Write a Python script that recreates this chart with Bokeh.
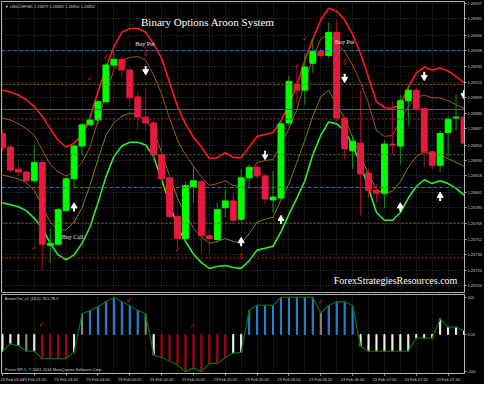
import numpy as np
from bokeh.plotting import figure
from bokeh.layouts import column
from bokeh.models import FixedTicker, Span, Label, NumeralTickFormatter, ColumnDataSource, Range1d
from bokeh.transform import factor_cmap
from bokeh.core.properties import value
from bokeh.embed import file_html
from bokeh.resources import INLINE

# ---------------- data ----------------
HEADER = "\u25bc USDCHF,M5  1.26879 1.26882 1.26850 1.26852"
TITLE = "Binary Options Aroon System"
WATERMARK = "ForexStrategiesResources.com"
OSC_HEADER = "AroonOsc_v1 (14,0) 78.5 78.5"
COPYRIGHT = "Prices RP-1, \u00a9 2001-2014 MetaQuotes Software Corp."

IDX = list(range(1, 60))
OPEN = [1.26862, 1.26848, 1.26825, 1.26822, 1.26813, 1.26832, 1.26746, 1.26747, 1.26782, 1.26815,
        1.26849, 1.26871, 1.26876, 1.26895, 1.26933, 1.26939, 1.26928, 1.26900, 1.26879, 1.26873,
        1.26840, 1.26816, 1.26776, 1.26753, 1.26807, 1.26812, 1.26756, 1.26752, 1.26785, 1.26792,
        1.26773, 1.26816, 1.26827, 1.26818, 1.26793, 1.26795, 1.26873, 1.26913, 1.26907, 1.26935,
        1.26947, 1.26943, 1.26967, 1.26878, 1.26844, 1.26852, 1.26821, 1.26803, 1.26800, 1.26851,
        1.26849, 1.26896, 1.26907, 1.26888, 1.26843, 1.26829, 1.26863, 1.26878, 1.26879]
HIGH = [1.26867, 1.26850, 1.26830, 1.26824, 1.26850, 1.26834, 1.26763, 1.26785, 1.26817, 1.26852,
        1.26873, 1.26882, 1.26897, 1.26935, 1.26948, 1.26942, 1.26930, 1.26905, 1.26910, 1.26875,
        1.26855, 1.26818, 1.26780, 1.26812, 1.26828, 1.26814, 1.26762, 1.26790, 1.26804, 1.26800,
        1.26825, 1.26830, 1.26830, 1.26820, 1.26823, 1.26875, 1.26922, 1.26933, 1.26945, 1.26960,
        1.26950, 1.26977, 1.26980, 1.26880, 1.26860, 1.26907, 1.26825, 1.26810, 1.26855, 1.26896,
        1.26902, 1.26910, 1.26910, 1.26890, 1.26845, 1.26865, 1.26880, 1.26903, 1.26882]
LOW = [1.26844, 1.26822, 1.26818, 1.26810, 1.26811, 1.26720, 1.26728, 1.26745, 1.26781, 1.26805,
       1.26840, 1.26870, 1.26872, 1.26892, 1.26930, 1.26920, 1.26890, 1.26865, 1.26865, 1.26832,
       1.26812, 1.26774, 1.26743, 1.26750, 1.26790, 1.26737, 1.26738, 1.26748, 1.26775, 1.26768,
       1.26770, 1.26805, 1.26815, 1.26788, 1.26780, 1.26793, 1.26870, 1.26893, 1.26892, 1.26925,
       1.26940, 1.26940, 1.26875, 1.26835, 1.26825, 1.26777, 1.26795, 1.26790, 1.26785, 1.26840,
       1.26830, 1.26870, 1.26885, 1.26827, 1.26825, 1.26822, 1.26838, 1.26865, 1.26850]
CLOSE = [1.26847, 1.26824, 1.26822, 1.26813, 1.26832, 1.26747, 1.26748, 1.26783, 1.26815, 1.26849,
         1.26871, 1.26876, 1.26895, 1.26933, 1.26939, 1.26928, 1.26899, 1.26879, 1.26873, 1.26840,
         1.26815, 1.26776, 1.26753, 1.26808, 1.26813, 1.26756, 1.26753, 1.26783, 1.26792, 1.26772,
         1.26816, 1.26827, 1.26818, 1.26794, 1.26796, 1.26872, 1.26916, 1.26907, 1.26931, 1.26947,
         1.26943, 1.26967, 1.26878, 1.26846, 1.26854, 1.26820, 1.26803, 1.26800, 1.26851, 1.26850,
         1.26896, 1.26907, 1.26888, 1.26843, 1.26829, 1.26862, 1.26877, 1.26879, 1.26852]

BAND_UPPER = [1.26907, 1.26905, 1.26902, 1.26897, 1.26890, 1.26880, 1.26867, 1.26855, 1.26848, 1.26852,
              1.26860, 1.26878, 1.26905, 1.26930, 1.26952, 1.26967, 1.26971, 1.26971, 1.26967, 1.26955,
              1.26940, 1.26915, 1.26890, 1.26872, 1.26858, 1.26848, 1.26836, 1.26837, 1.26842, 1.26837,
              1.26837, 1.26848, 1.26859, 1.26861, 1.26863, 1.26875, 1.26892, 1.26912, 1.26938, 1.26960,
              1.26980, 1.26992, 1.26989, 1.26980, 1.26965, 1.26945, 1.26920, 1.26895, 1.26889, 1.26888,
              1.26892, 1.26910, 1.26925, 1.26931, 1.26928, 1.26930, 1.26927, 1.26921, 1.26915]
BAND_UPPER_IN = [1.26878, 1.26876, 1.26872, 1.26867, 1.26860, 1.26845, 1.26830, 1.26822, 1.26818, 1.26822,
                 1.26832, 1.26848, 1.26875, 1.26903, 1.26928, 1.26938, 1.26941, 1.26942, 1.26938, 1.26923,
                 1.26903, 1.26878, 1.26855, 1.26840, 1.26828, 1.26817, 1.26808, 1.26810, 1.26813, 1.26808,
                 1.26807, 1.26820, 1.26832, 1.26834, 1.26835, 1.26850, 1.26867, 1.26887, 1.26915, 1.26940,
                 1.26960, 1.26965, 1.26956, 1.26947, 1.26933, 1.26915, 1.26893, 1.26865, 1.26859, 1.26860,
                 1.26875, 1.26890, 1.26899, 1.26902, 1.26899, 1.26899, 1.26896, 1.26892, 1.26888]
BAND_LOWER_IN = [1.26819, 1.26817, 1.26815, 1.26811, 1.26803, 1.26787, 1.26770, 1.26762, 1.26762, 1.26770,
                 1.26785, 1.26808, 1.26835, 1.26860, 1.26873, 1.26880, 1.26883, 1.26882, 1.26875, 1.26865,
                 1.26842, 1.26818, 1.26795, 1.26778, 1.26764, 1.26755, 1.26748, 1.26750, 1.26753, 1.26750,
                 1.26748, 1.26758, 1.26770, 1.26773, 1.26775, 1.26793, 1.26810, 1.26832, 1.26855, 1.26880,
                 1.26900, 1.26907, 1.26892, 1.26878, 1.26858, 1.26838, 1.26820, 1.26804, 1.26800, 1.26802,
                 1.26812, 1.26827, 1.26838, 1.26843, 1.26840, 1.26840, 1.26836, 1.26832, 1.26828]
BAND_LOWER = [1.26790, 1.26788, 1.26786, 1.26782, 1.26774, 1.26764, 1.26748, 1.26736, 1.26731, 1.26736,
              1.26748, 1.26765, 1.26790, 1.26817, 1.26838, 1.26849, 1.26853, 1.26853, 1.26850, 1.26838,
              1.26814, 1.26790, 1.26765, 1.26750, 1.26737, 1.26728, 1.26722, 1.26724, 1.26725, 1.26723,
              1.26722, 1.26730, 1.26741, 1.26743, 1.26745, 1.26760, 1.26778, 1.26795, 1.26813, 1.26840,
              1.26860, 1.26874, 1.26872, 1.26865, 1.26850, 1.26830, 1.26805, 1.26780, 1.26772, 1.26772,
              1.26780, 1.26795, 1.26807, 1.26814, 1.26810, 1.26813, 1.26810, 1.26805, 1.26798]

PRICE_TICKS = [1.26997, 1.26981, 1.26964, 1.26948, 1.26932, 1.26915, 1.26899, 1.26883, 1.26867, 1.26850,
               1.26834, 1.26818, 1.26801, 1.26785, 1.26769, 1.26752, 1.26736, 1.26720, 1.26704]
LEVELS = [1.26948, 1.26913, 1.26887, 1.26877, 1.26840, 1.26806, 1.26769, 1.26733]

SELL_IDX = [19, 34, 44, 54, 59]
SELL_PRICE = [1.26928, 1.26840, 1.26920, 1.26922, 1.26903]
BUY_IDX = [10, 31, 36, 51, 56]
BUY_PRICE = [1.26785, 1.26749, 1.26772, 1.26785, 1.26796]
PUT_SIG_IDX = [19, 44]
PUT_SIG_PRICE = [1.26945, 1.26936]
CALL_SIG_IDX = [10, 31]
CALL_SIG_PRICE = [1.26772, 1.26734]
CHECK_IDX = [5, 12, 14, 23, 38, 39]
CHECK_PRICE = [1.26743, 1.26919, 1.26941, 1.26741, 1.26932, 1.26960]
TAG_TEXT = ["Buy Put", "Buy Put", "Buy Call"]
TAG_IDX = [18.9, 44.0, 9.8]
TAG_PRICE = [1.26955, 1.26957, 1.26755]

OSC = [-45, -25, -30, -45, -45, -65, -65, -65, -65, -48,
       55, 65, 75, 88, 100, 88, 78, 65, 55, -55,
       -62, -72, -82, -100, -90, -100, -78, -78, -62, -50,
       -48, 65, 78, 78, 78, 100, 100, 100, 100, 100,
       58, 78, 88, 88, 78, -32, -45, -45, -45, -45,
       -45, -45, -10, -10, -10, 42, 20, 20, 10]
OSC_STATE = (["flat"] * 3 + ["turn", "flat"] + ["bear"] * 4 + ["flat", "turn"] + ["bull"] * 7 +
             ["turn", "flat"] + ["bear"] * 9 + ["flat", "flat"] + ["bull"] * 9 + ["turn"] +
             ["bull"] * 4 + ["flat"] * 14)
OSC_CHECK_IDX = [5.9, 16.9, 24.9, 41.0]
OSC_CHECK_VAL = [25, 90, 22, 88]

DATE_TICKS = [1, 5, 9, 13, 17, 21, 25, 29, 33, 37, 41, 45, 49, 53, 57]
DATE_LABELS = ["23 Feb 03:00", "23 Feb 03:20", "23 Feb 03:40", "23 Feb 04:00", "23 Feb 04:20",
               "23 Feb 04:40", "23 Feb 05:00", "23 Feb 05:20", "23 Feb 05:40", "23 Feb 06:00",
               "23 Feb 06:20", "23 Feb 06:40", "23 Feb 07:00", "23 Feb 07:20", "23 Feb 07:40"]
GRID_TICKS = list(range(1, 60, 2))

# ---------------- styles ----------------
BG = "#000000"
GRID = "#3c3c3c"
FRAME = "#b4b4b4"
AXTXT = "#c8c8c8"
SMALL = "4px"
AXFONT = "Liberation Sans"
RB = 18
XR = Range1d(0.88, 59.06)

idx = np.array(IDX, dtype=float)
o = np.array(OPEN)
c = np.array(CLOSE)
direction = ["up" if cc >= oo else "down" for oo, cc in zip(OPEN, CLOSE)]
src = ColumnDataSource(dict(x=idx, top=np.maximum(o, c), bottom=np.minimum(o, c),
                            high=HIGH, low=LOW, dir=direction))

p1 = figure(width=484, height=293, x_range=XR, y_range=Range1d(1.26697, 1.26999),
            output_backend="svg", toolbar_location=None, x_axis_location=None,
            y_axis_location="right", background_fill_color=BG, border_fill_color=BG,
            min_border_left=1, min_border_right=RB, min_border_top=1, min_border_bottom=1,
            outline_line_color=FRAME)
p1.yaxis.ticker = FixedTicker(ticks=PRICE_TICKS)
p1.yaxis.formatter = NumeralTickFormatter(format="0.00000")
p1.yaxis.major_label_text_font_size = SMALL
p1.yaxis.major_label_text_color = AXTXT
p1.yaxis.major_label_text_font = AXFONT
p1.yaxis.axis_line_color = FRAME
p1.yaxis.major_tick_line_color = FRAME
p1.yaxis.major_tick_out = 2
p1.yaxis.major_tick_in = 0
p1.yaxis.minor_tick_line_color = None
p1.yaxis.major_label_standoff = 1
p1.ygrid.ticker = FixedTicker(ticks=PRICE_TICKS)
p1.xgrid.ticker = FixedTicker(ticks=GRID_TICKS)
for g in (p1.xgrid, p1.ygrid):
    g.grid_line_color = GRID
    g.grid_line_dash = "1 2"

level_styles = [("#2a6fd0", "4 2", "#2a6fd0", "white"),
                ("#b86a00", "2 2", "#e09000", "black"),
                ("#56626c", "solid", "#e8e8e8", "black"),
                ("#b03010", "2 2", "#e04010", "black"),
                ("#707018", "2 2", "#6a7a20", "white"),
                ("#2a6fd0", "4 2", "#2a6fd0", "white"),
                ("#707018", "2 2", "#6a7a20", "white"),
                ("#b03010", "2 2", "#e04010", "black")]
for lvl, (lc, dash, bg, tc) in zip(LEVELS, level_styles):
    p1.add_layout(Span(location=lvl, dimension="width", line_color=lc, line_dash=dash, line_width=1))
    p1.add_layout(Label(x=XR.end, y=lvl, x_offset=2, text=f"{lvl:.5f}", text_font_size=SMALL,
                        text_font=AXFONT, text_color=tc, background_fill_color=bg,
                        text_baseline="middle", text_align="left"))

# bands
p1.line(idx, BAND_UPPER, line_color="#ff1a1a", line_width=1.6)
p1.line(idx, BAND_UPPER_IN, line_color="#a4560c", line_width=1.0)
p1.line(idx, BAND_LOWER_IN, line_color="#8a7a10", line_width=1.0)
p1.line(idx, BAND_LOWER, line_color="#2cf02c", line_width=1.6)

# candles
p1.segment(x0="x", y0="low", x1="x", y1="high", source=src, line_width=1,
           line_color=factor_cmap("dir", ["#109a10", "#9a1028"], ["up", "down"]))
p1.vbar(x="x", width=0.74, top="top", bottom="bottom", source=src,
        fill_color=factor_cmap("dir", ["#00ff00", "#e8193f"], ["up", "down"]),
        line_color=factor_cmap("dir", ["#00ff00", "#e8193f"], ["up", "down"]), line_width=1)

# arrows
sx = np.array(SELL_IDX, dtype=float)
sp = np.array(SELL_PRICE)
p1.segment(x0=sx, y0=sp + 0.00004, x1=sx, y1=sp, line_color="white", line_width=2)
p1.scatter(sx, sp - 0.000015, marker="inverted_triangle", size=6, fill_color="white", line_color="white")
bx = np.array(BUY_IDX, dtype=float)
bp = np.array(BUY_PRICE)
p1.segment(x0=bx, y0=bp - 0.00004, x1=bx, y1=bp, line_color="white", line_width=2)
p1.scatter(bx, bp + 0.000015, marker="triangle", size=6, fill_color="white", line_color="white")
p1.text(PUT_SIG_IDX, PUT_SIG_PRICE, text=["\u21e9"] * len(PUT_SIG_IDX), text_color="#e01818",
        text_font=value("DejaVu Sans"), text_font_size="8px", text_align="center", text_baseline="middle")
p1.text(CALL_SIG_IDX, CALL_SIG_PRICE, text=["\u21e7"] * len(CALL_SIG_IDX), text_color="#e01818",
        text_font=value("DejaVu Sans"), text_font_size="8px", text_align="center", text_baseline="middle")
p1.text(CHECK_IDX, CHECK_PRICE, text=["\u2713"] * len(CHECK_IDX), text_color="#e01818",
        text_font=value("DejaVu Sans"), text_font_size="7px", text_align="center", text_baseline="middle")
p1.text(TAG_IDX, TAG_PRICE, text=TAG_TEXT, text_color="#e0e0e0",
        text_font=value("Liberation Serif"), text_font_size="6px", text_align="center", text_baseline="middle")

# texts
p1.text([1.3], [1.26994], text=[HEADER], text_color="#d0d0d0", text_font=value("Liberation Sans"),
        text_font_size=SMALL, text_align="left", text_baseline="middle")
p1.text([26.8], [1.26978], text=[TITLE], text_color="white", text_font=value("Liberation Serif"),
        text_font_size="11px", text_align="center", text_baseline="middle")
p1.text([50.4], [1.26709], text=[WATERMARK], text_color="white", text_font=value("Liberation Serif"),
        text_font_size="10px", text_align="center", text_baseline="middle")

# ---------------- oscillator ----------------
osrc = ColumnDataSource(dict(x=idx, v=OSC, state=OSC_STATE))
p2 = figure(width=484, height=91, x_range=XR, y_range=Range1d(-105, 107.5),
            output_backend="svg", toolbar_location=None, y_axis_location="right",
            background_fill_color=BG, border_fill_color=BG, min_border_left=1,
            min_border_right=RB, min_border_top=1, min_border_bottom=8, outline_line_color=FRAME)
p2.vbar(x="x", width=0.14, top="v", bottom=0, source=osrc,
        color=factor_cmap("state", ["#f0f0f0", "#8a8a8a", "#2a82d8", "#b00010"],
                          ["flat", "turn", "bull", "bear"]))
p2.line("x", "v", source=osrc, line_color="#0c6a0c", line_width=1.3)
p2.text(OSC_CHECK_IDX, OSC_CHECK_VAL, text=["\u2713"] * len(OSC_CHECK_IDX), text_color="#e01818",
        text_font=value("DejaVu Sans"), text_font_size="7px", text_align="center", text_baseline="middle")
p2.text([1.3], [97], text=[OSC_HEADER], text_color="#d0d0d0", text_font=value("Liberation Sans"),
        text_font_size=SMALL, text_align="left", text_baseline="middle")
p2.text([1.3], [-93], text=[COPYRIGHT], text_color="#d0d0d0", text_font=value("Liberation Sans"),
        text_font_size=SMALL, text_align="left", text_baseline="middle")

p2.yaxis.ticker = FixedTicker(ticks=[100, 0, -100])
p2.yaxis.major_label_overrides = {100: "100", 0: "0.00", -100: "-100"}
p2.xaxis.ticker = FixedTicker(ticks=DATE_TICKS)
p2.xaxis.major_label_overrides = dict(zip(DATE_TICKS, DATE_LABELS))
for ax in (p2.xaxis, p2.yaxis):
    ax.major_label_text_font_size = SMALL
    ax.major_label_text_color = AXTXT
    ax.major_label_text_font = AXFONT
    ax.axis_line_color = FRAME
    ax.major_tick_line_color = FRAME
    ax.major_tick_out = 2
    ax.major_tick_in = 0
    ax.minor_tick_line_color = None
    ax.major_label_standoff = 1
p2.xgrid.ticker = FixedTicker(ticks=GRID_TICKS)
p2.xgrid.grid_line_color = GRID
p2.xgrid.grid_line_dash = "1 2"
p2.ygrid.grid_line_color = None

lay = column(p1, p2, spacing=0, styles={"background-color": BG})
open("out.html", "w").write(file_html(lay, INLINE, title=TITLE))
